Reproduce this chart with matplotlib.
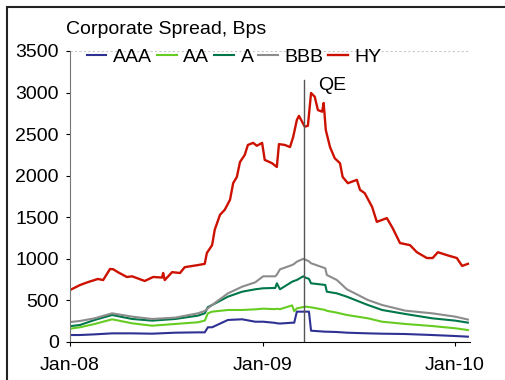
import matplotlib
matplotlib.use('Agg')
import matplotlib.pyplot as plt
import pandas as pd
from matplotlib.patches import Rectangle

plt.rcParams['font.family'] = ['Liberation Sans', 'DejaVu Sans']

# investment grade spreads (bps)
dates = ['2008-01-01', '2008-01-20', '2008-02-17', '2008-03-21', '2008-04-28', '2008-06-05',
         '2008-07-19', '2008-08-31', '2008-09-13', '2008-09-19', '2008-09-27', '2008-10-27',
         '2008-11-23', '2008-12-18', '2009-01-02', '2009-01-25', '2009-01-28', '2009-02-03',
         '2009-02-26', '2009-03-02', '2009-03-07', '2009-03-19', '2009-03-25', '2009-03-30',
         '2009-04-03', '2009-04-30', '2009-05-03', '2009-05-22', '2009-06-10', '2009-07-20',
         '2009-08-16', '2009-09-29', '2009-11-19', '2010-01-02', '2010-01-26']
aaa = [84, 84, 92, 104, 104, 100, 112, 116, 116, 177, 177, 265, 273, 244, 244, 230, 225, 222,
       232, 232, 365, 365, 365, 365, 136, 124, 124, 120, 112, 104, 100, 96, 84, 72, 64]
aa = [160, 177, 217, 273, 225, 196, 217, 237, 257, 345, 365, 385, 385, 393, 401, 395, 400, 395,
      440, 370, 405, 420, 425, 420, 417, 385, 375, 353, 325, 285, 244, 217, 192, 165, 144]
a = [190, 205, 265, 325, 277, 257, 277, 317, 345, 420, 445, 545, 605, 634, 646, 650, 706, 634,
     725, 735, 746, 790, 770, 760, 706, 686, 605, 585, 545, 445, 385, 337, 285, 257, 233]
bbb = [240, 253, 285, 345, 305, 277, 293, 345, 373, 405, 445, 585, 665, 718, 790, 790, 810, 874,
       926, 940, 966, 1000, 985, 970, 947, 887, 806, 746, 634, 505, 445, 377, 345, 305, 270]

# high yield has its own, denser set of points
hy_dates = ['2008-01-01', '2008-01-20', '2008-02-04', '2008-02-23', '2008-03-04', '2008-03-17',
            '2008-03-23', '2008-04-01', '2008-04-18', '2008-04-28', '2008-05-22', '2008-06-07',
            '2008-06-24', '2008-06-26', '2008-06-29', '2008-07-13', '2008-07-28', '2008-08-06',
            '2008-08-31', '2008-09-13', '2008-09-17', '2008-09-27', '2008-10-02', '2008-10-12',
            '2008-10-21', '2008-10-31', '2008-11-06', '2008-11-13', '2008-11-19', '2008-11-28',
            '2008-12-04', '2008-12-14', '2008-12-21', '2008-12-31', '2009-01-05', '2009-01-19',
            '2009-01-28', '2009-02-01', '2009-02-12', '2009-02-22', '2009-02-28', '2009-03-07',
            '2009-03-11', '2009-03-22', '2009-03-28', '2009-04-03', '2009-04-10', '2009-04-16',
            '2009-04-24', '2009-04-27', '2009-05-01', '2009-05-09', '2009-05-18', '2009-05-28',
            '2009-06-02', '2009-06-12', '2009-06-29', '2009-07-05', '2009-07-14', '2009-07-28',
            '2009-08-06', '2009-08-25', '2009-09-05', '2009-09-19', '2009-10-08', '2009-10-21',
            '2009-11-09', '2009-11-20', '2009-11-30', '2009-12-17', '2010-01-05', '2010-01-15',
            '2010-01-26']
hy = [625, 685, 720, 758, 745, 878, 875, 840, 782, 790, 734, 782,
      775, 830, 745, 840, 830, 900, 925, 940, 1070, 1165, 1350, 1530,
      1590, 1710, 1910, 1985, 2165, 2250, 2370, 2395, 2360, 2395, 2190, 2150,
      2105, 2380, 2370, 2345, 2465, 2670, 2720, 2590, 2600, 2995, 2950, 2790,
      2770, 2875, 2550, 2345, 2210, 2150, 1985, 1910, 1950, 1830, 1790, 1625,
      1445, 1490, 1370, 1190, 1165, 1080, 1010, 1010, 1080, 1045, 1010, 915,
      940]

qe_date = '2009-03-20'
tick_dates = ['2008-01-01', '2009-01-01', '2010-01-01']
tick_labels = ['Jan-08', 'Jan-09', 'Jan-10']

d = pd.to_datetime(dates)
hd = pd.to_datetime(hy_dates)
qe = pd.Timestamp(qe_date)

fig = plt.figure(figsize=(5.05, 3.8), dpi=100)
ax = fig.add_axes([0.1386, 0.1, 0.7921, 0.7658])

ax.plot(d, aaa, color='#2e3192', lw=1.5, label='AAA')
ax.plot(d, aa, color='#66cc22', lw=1.5, label='AA')
ax.plot(d, a, color='#00774a', lw=1.5, label='A')
ax.plot(d, bbb, color='#8c8c8c', lw=1.5, label='BBB')
ax.plot(hd, hy, color='#cc1100', lw=1.7, label='HY')

# QE marker
ax.plot([qe, qe], [0, 3150], color='#555555', lw=1.0)
ax.text(qe + pd.Timedelta(days=28), 3090, 'QE', fontsize=14, va='center', ha='left')

ax.axhline(3500, color='#c8c8c8', lw=0.8, ls=(0, (2, 2)))

ax.set_ylim(0, 3500)
ax.set_xlim(pd.Timestamp('2008-01-01'), pd.Timestamp('2010-01-30'))
ax.set_yticks(range(0, 3501, 500))
ax.set_xticks(pd.to_datetime(tick_dates))
ax.set_xticklabels(tick_labels)
ax.tick_params(axis='both', labelsize=14, length=3, direction='out')
ax.tick_params(axis='x', pad=8)
ax.tick_params(axis='y', pad=5)

for s in ['top', 'right']:
    ax.spines[s].set_visible(False)
ax.spines['left'].set_color('#777777')
ax.spines['bottom'].set_color('black')

fig.text(66 / 505, 1 - 29 / 380, 'Corporate Spread, Bps', fontsize=14, va='center', ha='left')

fig.legend(loc='center left', bbox_to_anchor=(87 / 505, 1 - 57 / 380), ncol=5, frameon=False,
           fontsize=14, handlelength=1.0, handletextpad=0.35, columnspacing=0.25, borderpad=0,
           borderaxespad=0)

# frame around the picture
fig.patches.append(Rectangle((7 / 505, -0.5), 2, 1.5 - 7 / 380, transform=fig.transFigure,
                             fill=False, edgecolor='#222222', lw=1.5))

fig.savefig('out.png', dpi=100)
